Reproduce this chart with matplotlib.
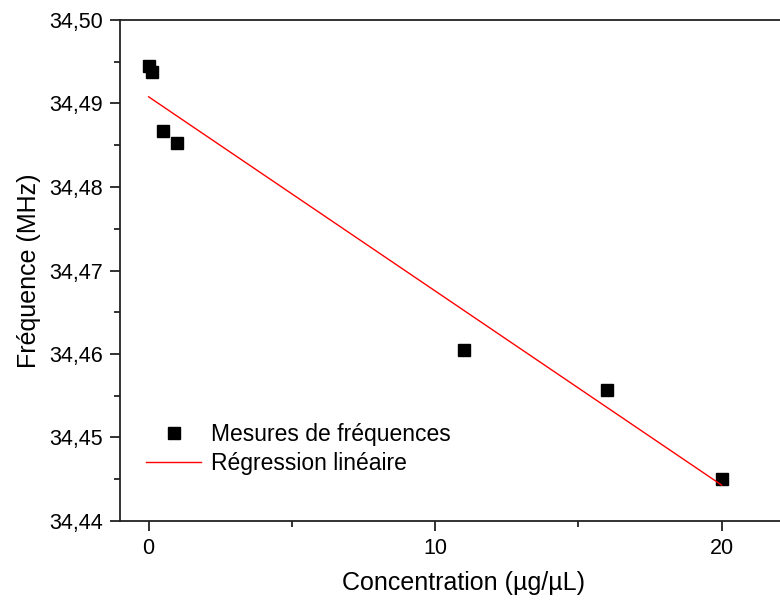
import numpy as np
import matplotlib
matplotlib.use("Agg")
import matplotlib.pyplot as plt
from matplotlib.ticker import MultipleLocator, FuncFormatter

plt.rcParams['font.family'] = ['Liberation Sans', 'DejaVu Sans']

# measured points
conc = [0, 0.1, 0.5, 1, 11, 16, 20]
freq = [34.4945, 34.4938, 34.4867, 34.4853, 34.4605, 34.4557, 34.4450]

# linear regression end points
reg_x = [0, 20]
reg_y = [34.4908, 34.4443]

fig = plt.figure(figsize=(7.8, 6.06), dpi=100)
# right part of the frame is cut off in the reference
ax = fig.add_axes([120/780, 1 - 521/606, (24*28.65)/780, (521 - 20)/606])

ax.plot(conc, freq, ls='none', marker='s', ms=8, color='black',
        label="Mesures de fréquences")
ax.plot(reg_x, reg_y, color='red', lw=1, label="Régression linéaire")

ax.set_xlim(-1, 23)
ax.set_ylim(34.44, 34.50)

ax.xaxis.set_major_locator(MultipleLocator(10))
ax.xaxis.set_minor_locator(MultipleLocator(5))
ax.yaxis.set_major_locator(MultipleLocator(0.01))
ax.yaxis.set_minor_locator(MultipleLocator(0.005))
ax.yaxis.set_major_formatter(FuncFormatter(lambda v, p: f"{v:.2f}".replace('.', ',')))

for s in ax.spines.values():
    s.set_linewidth(1.3)
    s.set_color('#222222')
ax.tick_params(which='major', direction='out', length=7, width=1.3, labelsize=15.5,
               color='#222222', pad=5)
ax.tick_params(which='minor', direction='out', length=4, width=1.3, color='#222222')

ax.set_xlabel("Concentration (µg/µL)", fontsize=18, labelpad=9)
ax.set_ylabel("Fréquence (MHz)", fontsize=18, labelpad=6)

ax.legend(loc='lower left', bbox_to_anchor=(0.015, 0.06), frameon=False,
          fontsize=16.5, handlelength=2.4, handletextpad=0.4, labelspacing=0.25,
          borderaxespad=0.3)

fig.savefig("out.png", dpi=100)
